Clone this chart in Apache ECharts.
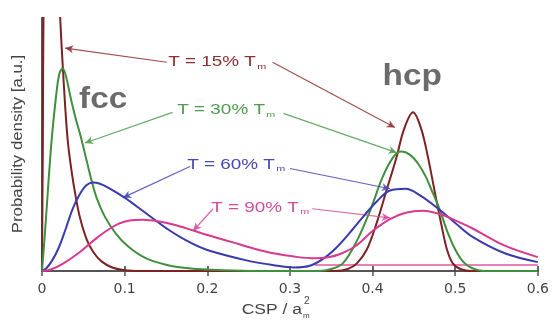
<!DOCTYPE html>
<html>
<head>
<meta charset="utf-8">
<script src="https://cdn.jsdelivr.net/npm/echarts@6/dist/echarts.min.js"></script>
<style>
  html, body { margin: 0; padding: 0; background: #fff; }
  #chart { width: 552px; height: 322px; }
</style>
</head>
<body>
<div id="chart"></div>
<script>
// Probability density of the centro-symmetry parameter (CSP) at four temperatures
const xTicks = [0, 0.1, 0.2, 0.3, 0.4, 0.5, 0.6];
const tickLabels = ['0', '0.1', '0.2', '0.3', '0.4', '0.5', '0.6'];

// [CSP, density] pairs, one list per temperature
const t15 = [
  [0, 0], [0.001, 0.5], [0.002, 1.1], [0.005, 1.6], [0.01, 1.75], [0.015, 1.6], [0.019, 1.25],
  [0.022, 1.0], [0.026, 0.76], [0.031, 0.52], [0.036, 0.39], [0.041, 0.29], [0.046, 0.21],
  [0.054, 0.125], [0.062, 0.075], [0.072, 0.038], [0.085, 0.014], [0.1, 0.003], [0.12, 0],
  [0.355, 0], [0.37, 0.008], [0.381, 0.03], [0.393, 0.085], [0.405, 0.19], [0.417, 0.32],
  [0.429, 0.45], [0.438, 0.56], [0.449, 0.627], [0.459, 0.56], [0.467, 0.45], [0.475, 0.317],
  [0.483, 0.187], [0.49, 0.085], [0.497, 0.03], [0.507, 0.007], [0.52, 0], [0.6, 0]
];
const t30 = [
  [0, 0], [0.004, 0.17], [0.008, 0.36], [0.012, 0.53], [0.017, 0.69], [0.021, 0.78], [0.025, 0.8],
  [0.029, 0.77], [0.035, 0.68], [0.041, 0.6], [0.047, 0.53], [0.053, 0.45], [0.059, 0.37],
  [0.066, 0.29], [0.076, 0.215], [0.09, 0.145], [0.105, 0.095], [0.125, 0.052], [0.15, 0.025],
  [0.18, 0.01], [0.22, 0.003], [0.26, 0], [0.335, 0], [0.35, 0.008], [0.364, 0.03], [0.381, 0.119],
  [0.397, 0.238], [0.412, 0.37], [0.425, 0.45], [0.435, 0.472], [0.445, 0.46], [0.455, 0.425],
  [0.464, 0.375], [0.472, 0.315], [0.481, 0.245], [0.49, 0.16], [0.5, 0.085], [0.51, 0.035],
  [0.52, 0.012], [0.535, 0], [0.6, 0]
];
const t60 = [
  [0, 0], [0.005, 0.01], [0.012, 0.04], [0.02, 0.09], [0.028, 0.16], [0.037, 0.245], [0.046, 0.305],
  [0.054, 0.34], [0.062, 0.35], [0.07, 0.345], [0.08, 0.33], [0.1, 0.29], [0.125, 0.23],
  [0.15, 0.17], [0.175, 0.12], [0.2, 0.083], [0.25, 0.04], [0.28, 0.023], [0.305, 0.014],
  [0.325, 0.022], [0.343, 0.055], [0.36, 0.105], [0.376, 0.165], [0.39, 0.22], [0.405, 0.275],
  [0.421, 0.318], [0.44, 0.325], [0.457, 0.3], [0.48, 0.245], [0.5, 0.19], [0.521, 0.135],
  [0.56, 0.07], [0.6, 0.035]
];
const t90 = [
  [0, 0], [0.01, 0.005], [0.025, 0.028], [0.046, 0.075], [0.066, 0.13], [0.08, 0.163],
  [0.093, 0.187], [0.106, 0.2], [0.122, 0.203], [0.14, 0.197], [0.16, 0.183], [0.183, 0.16],
  [0.2, 0.142], [0.23, 0.114], [0.255, 0.09], [0.28, 0.07], [0.305, 0.057], [0.33, 0.05],
  [0.348, 0.055], [0.363, 0.07], [0.38, 0.1], [0.4, 0.158], [0.421, 0.205], [0.44, 0.23],
  [0.461, 0.238], [0.482, 0.224], [0.5, 0.2], [0.521, 0.168], [0.56, 0.1], [0.6, 0.055]
];
// flat high-temperature baseline under the hcp peak
const t90Base = [[0.33, 0.024], [0.6, 0.024]];

const names = ['T = 15% Tm', 'T = 30% Tm', 'T = 60% Tm', 'T = 90% Tm'];
const colors = ['#7d2222', '#3f8f3f', '#3a3aae', '#d8388e'];
const textColors = ['#8e2f2f', '#4c9c4c', '#4747b8', '#d24c9c'];

// annotation layout: label centre, and arrows from label ends to the curves (data coordinates)
const notes = [
  { at: [0.212, 0.826], arrows: [[[0.151, 0.825], [0.028, 0.881]], [[0.279, 0.825], [0.427, 0.567]]] },
  { at: [0.223, 0.635], arrows: [[[0.158, 0.627], [0.052, 0.506]], [[0.292, 0.623], [0.429, 0.468]]] },
  { at: [0.235, 0.42], arrows: [[[0.179, 0.413], [0.098, 0.29]], [[0.3, 0.405], [0.421, 0.325]]] },
  { at: [0.264, 0.25], arrows: [[[0.207, 0.246], [0.183, 0.159]], [[0.327, 0.246], [0.421, 0.21]]] }
];

const FONT = '"Liberation Sans", Arial, sans-serif';
const chart = echarts.init(document.getElementById('chart'), null, { renderer: 'canvas' });

const dataSets = [t15, t30, t60, t90];
const series = dataSets.map((d, i) => ({
  name: names[i],
  type: 'line',
  data: d,
  showSymbol: false,
  smooth: 0.35,
  clip: true,
  z: 3 + i,
  lineStyle: { color: colors[i], width: 2 },
  markLine: {
    silent: true,
    symbol: ['none', 'arrow'],
    symbolSize: [6, 8],
    label: { show: false },
    lineStyle: { color: textColors[i], width: 1.2, type: 'solid', opacity: 0.85 },
    data: notes[i].arrows.map(a => [{ coord: a[0] }, { coord: a[1] }])
  }
}));
series.push({
  type: 'line', data: t90Base, showSymbol: false, z: 2,
  lineStyle: { color: colors[3], width: 1.6, opacity: 0.85 }
});

chart.setOption({
  animation: false,
  backgroundColor: '#ffffff',
  grid: { left: 42, right: 14, top: 18, bottom: 51 },
  xAxis: [
    {
      type: 'value', min: 0, max: 0.6, interval: 0.1, position: 'bottom',
      axisLine: { lineStyle: { color: '#222', width: 2 } },
      axisTick: { inside: true, length: 5, lineStyle: { color: '#333', width: 1.5 } },
      axisLabel: {
        margin: 11, color: '#444', fontSize: 14, fontFamily: '"DejaVu Sans", sans-serif',
        formatter: v => tickLabels[xTicks.findIndex(t => Math.abs(t - v) < 1e-9)] ?? ''
      },
      splitLine: { show: false }
    },
    {
      type: 'value', min: 0, max: 0.6, interval: 0.1, position: 'top',
      axisLine: { show: true, lineStyle: { color: '#555', width: 2 } },
      axisTick: { inside: true, length: 5, lineStyle: { color: '#555', width: 1.5 } },
      axisLabel: { show: false },
      splitLine: { show: false }
    }
  ],
  yAxis: [
    {
      type: 'value', min: 0, max: 1, position: 'left',
      axisLine: { show: true, lineStyle: { color: '#222', width: 2 } },
      axisTick: { show: false }, axisLabel: { show: false }, splitLine: { show: false }
    },
    {
      type: 'value', min: 0, max: 1, position: 'right',
      axisLine: { show: true, lineStyle: { color: '#555', width: 2 } },
      axisTick: { show: false }, axisLabel: { show: false }, splitLine: { show: false }
    }
  ],
  series: series
});

// labels placed from data coordinates
const graphics = [];
notes.forEach((n, i) => {
  const p = chart.convertToPixel({ xAxisIndex: 0, yAxisIndex: 0 }, n.at);
  graphics.push({
    type: 'text', x: p[0], y: p[1], z: 20, scaleX: 1.35,
    style: {
      text: 'T = ' + names[i].slice(4, -2) + 'T{s|m}',
      fill: textColors[i], font: '14px ' + FONT,
      align: 'center', verticalAlign: 'middle',
      rich: { s: { fontSize: 8, fill: textColors[i], padding: [9, 0, 0, 1] } }
    }
  });
});
const fcc = chart.convertToPixel({ xAxisIndex: 0, yAxisIndex: 0 }, [0.074, 0.675]);
const hcp = chart.convertToPixel({ xAxisIndex: 0, yAxisIndex: 0 }, [0.448, 0.765]);
graphics.push({ type: 'text', x: fcc[0], y: fcc[1], z: 20, scaleX: 1.15,
  style: { text: 'fcc', fill: '#6b6b6b', font: 'bold 29px ' + FONT, align: 'center', verticalAlign: 'middle' } });
graphics.push({ type: 'text', x: hcp[0], y: hcp[1], z: 20, scaleX: 1.15,
  style: { text: 'hcp', fill: '#6b6b6b', font: 'bold 29px ' + FONT, align: 'center', verticalAlign: 'middle' } });

// axis titles
graphics.push({ type: 'text', x: 302, y: 310, z: 20, scaleX: 1.25,
  style: { text: 'CSP / a', fill: '#444', font: '14px ' + FONT, align: 'right', verticalAlign: 'middle' } });
graphics.push({ type: 'text', x: 304, y: 301, z: 20,
  style: { text: '2', fill: '#444', font: '10px ' + FONT, align: 'left', verticalAlign: 'middle' } });
graphics.push({ type: 'text', x: 303, y: 316, z: 20,
  style: { text: 'm', fill: '#444', font: '8px ' + FONT, align: 'left', verticalAlign: 'middle' } });
graphics.push({ type: 'text', x: 18, y: 144, rotation: Math.PI / 2, z: 20, scaleX: 1.2,
  style: { text: 'Probability density [a.u.]', fill: '#444', font: '14px ' + FONT, align: 'center', verticalAlign: 'middle' } });

chart.setOption({ graphic: graphics });
</script>
</body>
</html>
